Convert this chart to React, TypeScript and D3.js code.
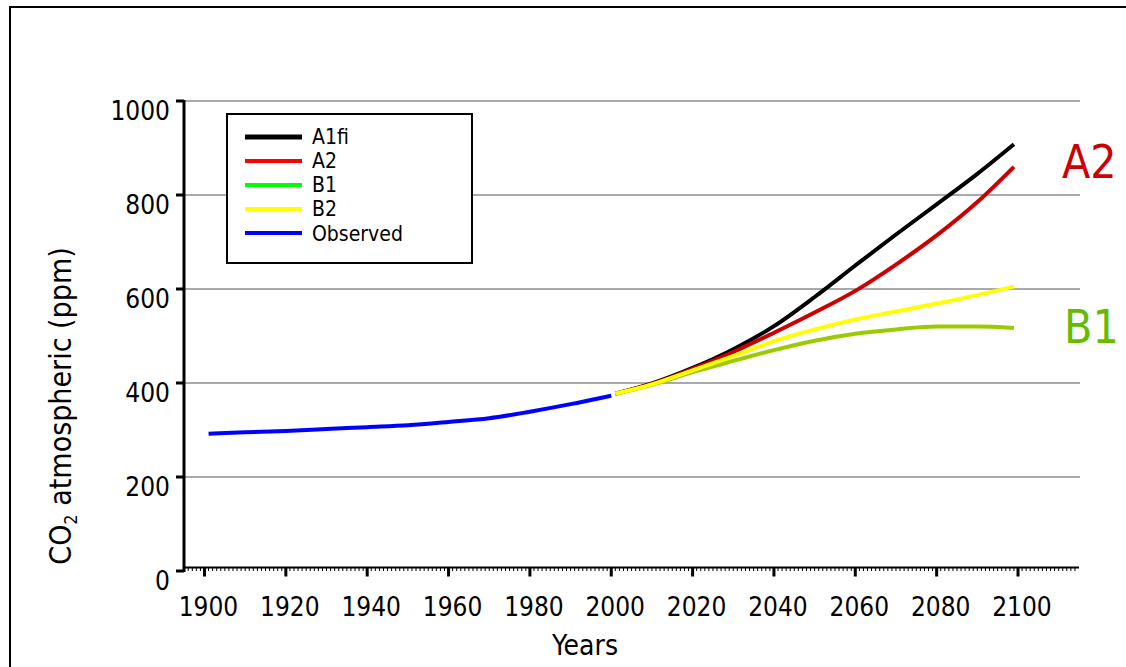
import React from 'react';
import { scaleLinear, line, curveMonotoneX, range } from 'd3';

// observed record
const obsYears = [1901, 1910, 1920, 1930, 1940, 1950, 1960, 1970, 1980, 1990, 2000];
const obsValues = [292, 295, 298, 302, 306, 310, 317, 325, 339, 355, 373];

// SRES scenarios
const scenYears = [2001, 2010, 2020, 2030, 2040, 2050, 2060, 2070, 2080, 2090, 2099];
const a1fi = [377, 399, 432, 472, 521, 583, 650, 716, 780, 845, 908];
const a2 = [377, 398, 430, 466, 507, 550, 596, 652, 714, 785, 860];
const b1 = [377, 396, 423, 447, 470, 490, 505, 514, 520, 520, 517];
const b2 = [377, 397, 427, 457, 489, 514, 535, 552, 569, 587, 605];

const xTicks = [1900, 1920, 1940, 1960, 1980, 2000, 2020, 2040, 2060, 2080, 2100];
const yTicks = [0, 200, 400, 600, 800, 1000];

const legendNames = ['A1fi', 'A2', 'B1', 'B2', 'Observed'];
const legendColors = ['#000000', '#ff0000', '#00ff00', '#ffff00', '#0000ff'];

const font = "'DejaVu Sans Condensed', 'DejaVu Sans', sans-serif";

export default function App() {
  const x = scaleLinear().domain([1900, 2100]).range([204.5, 1018]);
  const y = scaleLinear().domain([0, 1000]).range([571, 101]);

  const mk = line<[number, number]>()
    .x(d => x(d[0]))
    .y(d => y(d[1]))
    .curve(curveMonotoneX);

  const series = [
    { vals: a1fi, color: '#000000' },
    { vals: a2, color: '#cc0000' },
    { vals: b1, color: '#99cc00' },
    { vals: b2, color: '#ffff00' },
  ];

  const axisY = y(0) - 3.5;
  const minor = range(1896, 2115);

  const legLineY = [137, 161, 185, 209, 233];
  const legTextY = [144, 168, 192, 216, 241];

  return (
    <svg width={1126} height={667} style={{ position: 'absolute', left: 0, top: 0, fontFamily: font, fontStretch: 'condensed' }}>
      <rect x={0} y={0} width={1126} height={667} fill="#fff" />
      <rect x={10} y={7} width={1140} height={700} fill="none" stroke="#000" strokeWidth={2} />

      {/* grid */}
      {yTicks.filter(t => t > 0).map(t => (
        <line key={'g' + t} x1={184} x2={1080} y1={y(t)} y2={y(t)} stroke="#555" strokeWidth={1} />
      ))}

      {/* y axis */}
      <line x1={184} x2={184} y1={y(1000) - 1} y2={y(0) + 1} stroke="#000" strokeWidth={3} />
      {yTicks.map(t => (
        <g key={'y' + t}>
          <line x1={176} x2={184} y1={y(t)} y2={y(t)} stroke="#000" strokeWidth={3} />
          <text x={170} y={y(t) + 19} textAnchor="end" fontSize={26}>{t}</text>
        </g>
      ))}

      {/* x axis */}
      <line x1={x(1895.2)} x2={x(2115)} y1={axisY} y2={axisY} stroke="#000" strokeWidth={2} />
      {minor.map(yr => (
        <line key={'m' + yr} x1={x(yr)} x2={x(yr)} y1={axisY} y2={axisY + 3.5} stroke="#000" strokeWidth={1} />
      ))}
      {xTicks.map(t => (
        <g key={'x' + t}>
          <line x1={x(t)} x2={x(t)} y1={axisY} y2={axisY + 9} stroke="#000" strokeWidth={3} />
          <text x={x(t) + 4} y={616} textAnchor="middle" fontSize={26}>{t}</text>
        </g>
      ))}

      <text x={585} y={655} textAnchor="middle" fontSize={28}>Years</text>
      <text transform="translate(71,406) rotate(-90)" textAnchor="middle" fontSize={30}>
        CO<tspan fontSize={18} dy={6}>2</tspan><tspan dy={-6}> atmospheric (ppm)</tspan>
      </text>

      {/* lines */}
      <path d={mk(obsYears.map((yr, i) => [yr, obsValues[i]] as [number, number])) || ''} fill="none" stroke="#0000ff" strokeWidth={4} />
      {series.map((s, k) => (
        <path key={'s' + k} d={mk(scenYears.map((yr, i) => [yr, s.vals[i]] as [number, number])) || ''} fill="none" stroke={s.color} strokeWidth={4} />
      ))}

      <text x={1062} y={178} fontSize={46} fill="#cc0000">A2</text>
      <text x={1064} y={343} fontSize={46} fill="#66bb00">B1</text>

      {/* legend */}
      <rect x={227} y={114} width={245} height={149} fill="#fff" stroke="#000" strokeWidth={2} />
      {legendNames.map((n, i) => (
        <g key={n}>
          <line x1={245} x2={302} y1={legLineY[i]} y2={legLineY[i]} stroke={legendColors[i]} strokeWidth={i === 0 ? 5 : 4} />
          <text x={312} y={legTextY[i]} fontSize={21}>{n}</text>
        </g>
      ))}
    </svg>
  );
}
